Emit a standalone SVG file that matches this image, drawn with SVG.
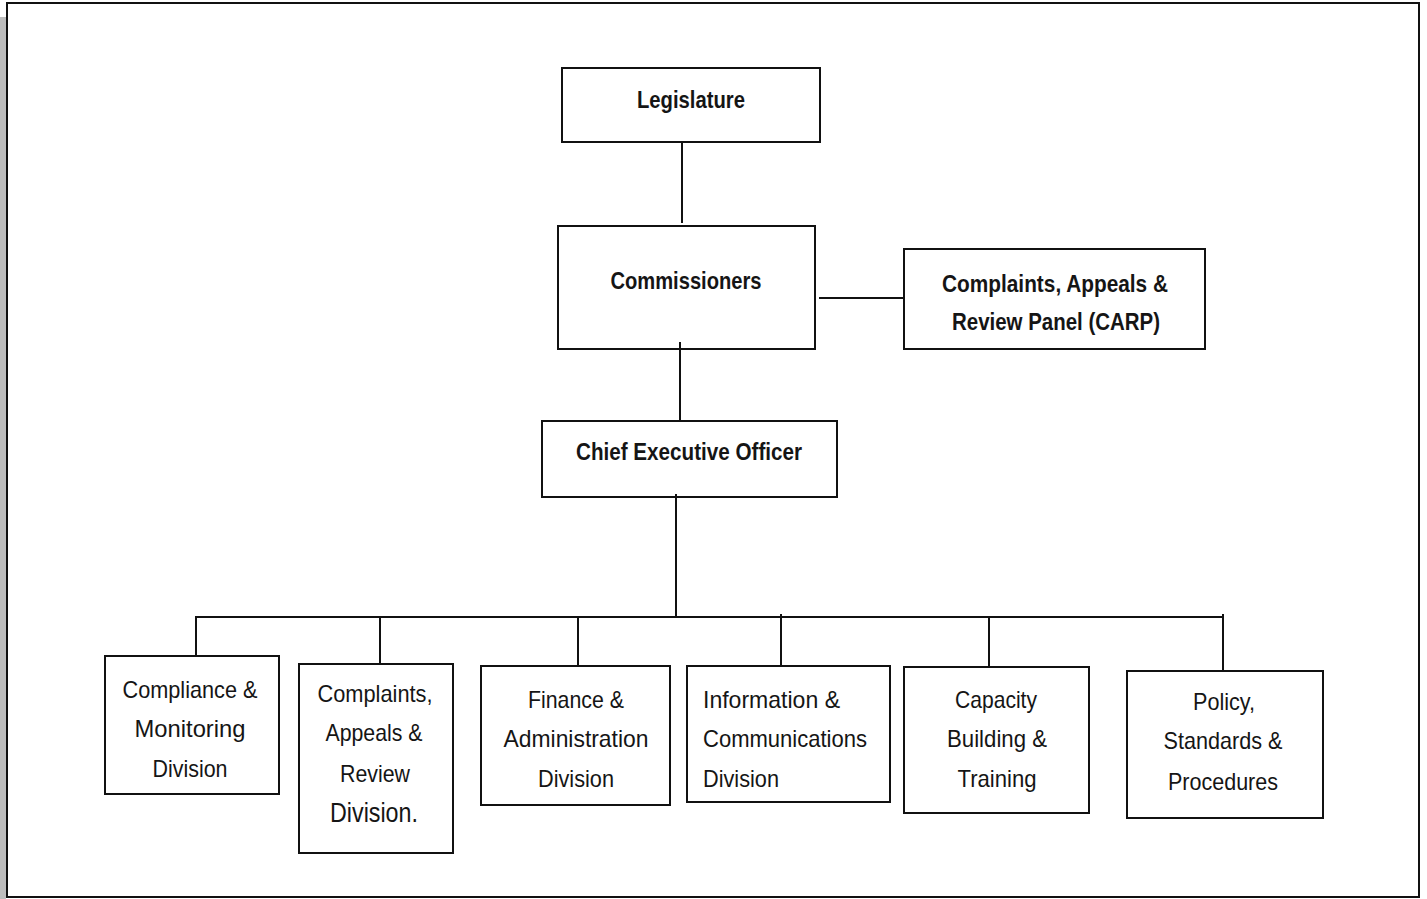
<svg xmlns="http://www.w3.org/2000/svg" width="1427" height="899" viewBox="0 0 1427 899">
<style>
.box{fill:#fff;stroke:#111;stroke-width:2}
.ln{stroke:#111;stroke-width:2;fill:none}
text{font-family:"Liberation Sans","Open Sans",Arial,sans-serif;fill:#151515}
.b{font-weight:bold;font-size:24px}
.r{font-size:24px}
.c{text-anchor:middle}
</style>
<rect x="0" y="0" width="1427" height="899" fill="#fff"/>
<rect x="0" y="17" width="6" height="882" fill="#bdbdbd"/>
<rect x="7" y="3" width="1412" height="894" fill="#fff" stroke="#111" stroke-width="2"/>
<g id="legislature">
<rect class="box" x="562" y="68" width="258" height="74"/>
<text class="b c" x="691" y="108" textLength="108" lengthAdjust="spacingAndGlyphs">Legislature</text>
</g>
<g id="commissioners">
<rect class="box" x="558" y="226" width="257" height="123"/>
<text class="b c" x="686" y="289" textLength="151" lengthAdjust="spacingAndGlyphs">Commissioners</text>
</g>
<g id="carp">
<rect class="box" x="904" y="249" width="301" height="100"/>
<text class="b c" x="1055" y="292" textLength="226" lengthAdjust="spacingAndGlyphs">Complaints, Appeals &amp;</text>
<text class="b c" x="1056" y="330" textLength="208" lengthAdjust="spacingAndGlyphs">Review Panel (CARP)</text>
</g>
<g id="ceo">
<rect class="box" x="542" y="421" width="295" height="76"/>
<text class="b c" x="689" y="460" textLength="226" lengthAdjust="spacingAndGlyphs">Chief Executive Officer</text>
</g>
<g id="compliance">
<rect class="box" x="105" y="656" width="174" height="138"/>
<text class="r c" x="190" y="698" textLength="135" lengthAdjust="spacingAndGlyphs">Compliance &amp;</text>
<text class="r c" x="190" y="737" textLength="111" lengthAdjust="spacingAndGlyphs">Monitoring</text>
<text class="r c" x="190" y="777" textLength="75" lengthAdjust="spacingAndGlyphs">Division</text>
</g>
<g id="complaints-division">
<rect class="box" x="299" y="664" width="154" height="189"/>
<text class="r c" x="375" y="702" textLength="115" lengthAdjust="spacingAndGlyphs">Complaints,</text>
<text class="r c" x="374" y="741" textLength="97" lengthAdjust="spacingAndGlyphs">Appeals &amp;</text>
<text class="r c" x="375" y="782" textLength="70" lengthAdjust="spacingAndGlyphs">Review</text>
<text class="c" x="374" y="822" font-size="28" textLength="88" lengthAdjust="spacingAndGlyphs">Division.</text>
</g>
<g id="finance">
<rect class="box" x="481" y="666" width="189" height="139"/>
<text class="r c" x="576" y="708" textLength="96" lengthAdjust="spacingAndGlyphs">Finance &amp;</text>
<text class="r c" x="576" y="747" textLength="145" lengthAdjust="spacingAndGlyphs">Administration</text>
<text class="r c" x="576" y="787" textLength="76" lengthAdjust="spacingAndGlyphs">Division</text>
</g>
<g id="information">
<rect class="box" x="687" y="666" width="203" height="136"/>
<text class="r" x="703" y="708" textLength="137" lengthAdjust="spacingAndGlyphs">Information &amp;</text>
<text class="r" x="703" y="747" textLength="164" lengthAdjust="spacingAndGlyphs">Communications</text>
<text class="r" x="703" y="787" textLength="76" lengthAdjust="spacingAndGlyphs">Division</text>
</g>
<g id="capacity">
<rect class="box" x="904" y="667" width="185" height="146"/>
<text class="r c" x="996" y="708" textLength="82" lengthAdjust="spacingAndGlyphs">Capacity</text>
<text class="r c" x="997" y="747" textLength="100" lengthAdjust="spacingAndGlyphs">Building &amp;</text>
<text class="r c" x="997" y="787" textLength="79" lengthAdjust="spacingAndGlyphs">Training</text>
</g>
<g id="policy">
<rect class="box" x="1127" y="671" width="196" height="147"/>
<text class="r c" x="1224" y="710" textLength="62" lengthAdjust="spacingAndGlyphs">Policy,</text>
<text class="r c" x="1223" y="749" textLength="119" lengthAdjust="spacingAndGlyphs">Standards &amp;</text>
<text class="r c" x="1223" y="790" textLength="110" lengthAdjust="spacingAndGlyphs">Procedures</text>
</g>
<g id="connectors">
<line class="ln" x1="682" y1="143" x2="682" y2="223"/>
<line class="ln" x1="819" y1="298" x2="904" y2="298"/>
<line class="ln" x1="680" y1="342" x2="680" y2="420"/>
<line class="ln" x1="676" y1="494" x2="676" y2="617"/>
<line class="ln" x1="195" y1="617" x2="1224" y2="617"/>
<line class="ln" x1="196" y1="617" x2="196" y2="655"/>
<line class="ln" x1="380" y1="617" x2="380" y2="663"/>
<line class="ln" x1="578" y1="617" x2="578" y2="665"/>
<line class="ln" x1="781" y1="614" x2="781" y2="665"/>
<line class="ln" x1="989" y1="617" x2="989" y2="666"/>
<line class="ln" x1="1223" y1="614" x2="1223" y2="670"/>
</g>
</svg>
